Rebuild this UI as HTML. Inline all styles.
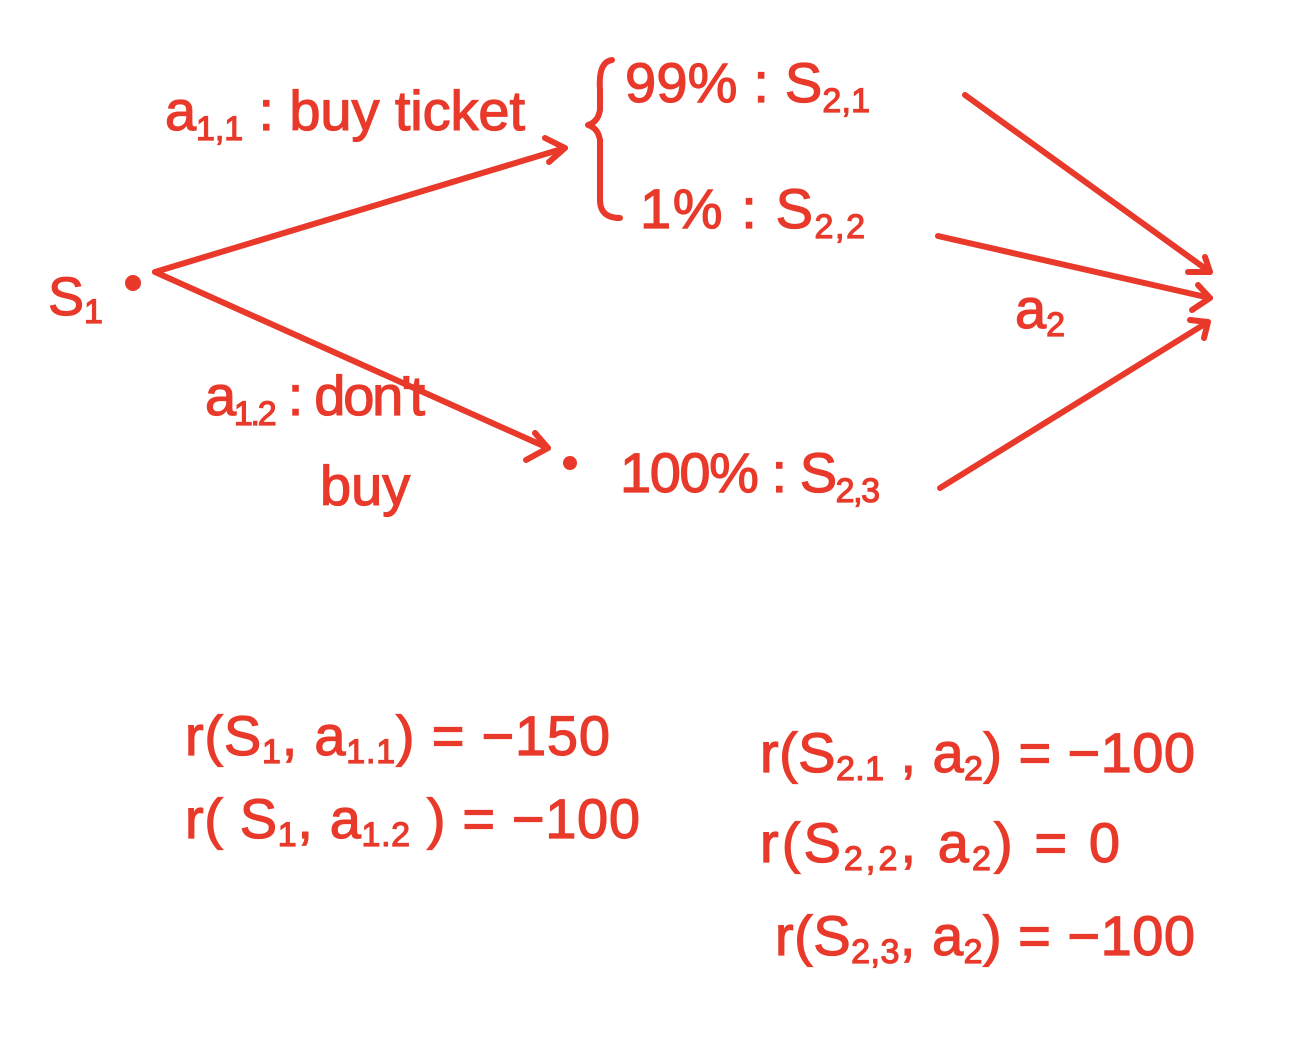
<!DOCTYPE html>
<html><head><meta charset="utf-8"><style>
html,body{margin:0;padding:0;background:#fff;width:1313px;height:1054px;overflow:hidden}
svg{display:block}
text{font-family:"Liberation Sans",sans-serif;fill:#e8392a;stroke:#e8392a;stroke-width:1.2}
</style></head><body>
<svg width="1313" height="1054" viewBox="0 0 1313 1054">
<g stroke="#e8392a" stroke-width="6" fill="none" stroke-linecap="round" stroke-linejoin="round">
 <line x1="155" y1="272" x2="565" y2="148"/>
 <polyline points="545,138 565,148 549,162"/>
 <line x1="155" y1="272" x2="548" y2="448"/>
 <polyline points="535,433 548,448 526,460"/>
 <path d="M612,60 Q598,62 600,90 L600,110 Q598,122 588,125 Q598,128 600,140 L600,200 Q600,218 620,218"/>
 <line x1="965" y1="95" x2="1210" y2="272"/>
 <polyline points="1205,257 1210,272 1188,272"/>
 <line x1="938" y1="236" x2="1210" y2="298"/>
 <polyline points="1198,285 1210,298 1192,310"/>
 <line x1="940" y1="488" x2="1208" y2="322"/>
 <polyline points="1190,320 1208,322 1204,338"/>
</g>
<circle cx="133" cy="283" r="8" fill="#e8392a"/>
<circle cx="570" cy="463" r="7" fill="#e8392a"/>

<text x="48" y="315" font-size="54">S<tspan font-size="34" dy="8">1</tspan></text>
<text x="165" y="130" font-size="56" textLength="360">a<tspan font-size="34" dy="10">1,1</tspan><tspan dy="-10"> : buy ticket</tspan></text>
<text x="625" y="102" font-size="56" textLength="245">99% : S<tspan font-size="34" dy="10">2,1</tspan></text>
<text x="640" y="228" font-size="56" textLength="225">1% : S<tspan font-size="34" dy="10">2,2</tspan></text>
<text x="205" y="415" font-size="56" textLength="220">a<tspan font-size="34" dy="10">1.2</tspan><tspan dy="-10"> : don't</tspan></text>
<text x="320" y="505" font-size="56">buy</text>
<text x="620" y="492" font-size="56" textLength="260">100% : S<tspan font-size="34" dy="10">2,3</tspan></text>
<text x="1015" y="328" font-size="56">a<tspan font-size="34" dy="8">2</tspan></text>

<text x="185" y="755" font-size="56" textLength="425">r(S<tspan font-size="34" dy="8">1</tspan><tspan dy="-8">, a</tspan><tspan font-size="34" dy="8">1.1</tspan><tspan dy="-8">) = −150</tspan></text>
<text x="185" y="838" font-size="56" textLength="455">r( S<tspan font-size="34" dy="8">1</tspan><tspan dy="-8">, a</tspan><tspan font-size="34" dy="8">1.2</tspan><tspan dy="-8"> ) = −100</tspan></text>
<text x="760" y="772" font-size="56" textLength="435">r(S<tspan font-size="34" dy="8">2.1</tspan><tspan dy="-8"> , a</tspan><tspan font-size="34" dy="8">2</tspan><tspan dy="-8">) = −100</tspan></text>
<text x="760" y="862" font-size="56" textLength="360">r(S<tspan font-size="34" dy="8">2,2</tspan><tspan dy="-8">, a</tspan><tspan font-size="34" dy="8">2</tspan><tspan dy="-8">) =  0</tspan></text>
<text x="775" y="955" font-size="56" textLength="420">r(S<tspan font-size="34" dy="8">2,3</tspan><tspan dy="-8">, a</tspan><tspan font-size="34" dy="8">2</tspan><tspan dy="-8">) = −100</tspan></text>
</svg>
</body></html>
